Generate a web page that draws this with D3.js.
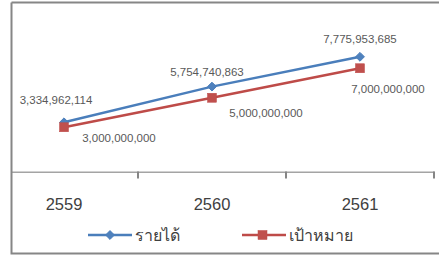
<!DOCTYPE html>
<html><head><meta charset="utf-8">
<script src="https://cdn.jsdelivr.net/npm/d3@7"></script>
<style>html,body{margin:0;padding:0;background:#fff;}svg{display:block;}</style>
</head><body>
<svg id="c" width="439" height="255"></svg>
<script>
const categories = ["2559", "2560", "2561"];
const revenue = [3334962114, 5754740863, 7775953685];
const target = [3000000000, 5000000000, 7000000000];
const seriesNames = ["รายได้", "เป้าหมาย"];

// label layout (offsets from the point)
const revLabelOff = [[-8, -22], [-5, -15], [0, -18]];
const tgtLabelOff = [[55, 11], [54, 15], [28, 21]];

const svg = d3.select("#c");
const fmt = d3.format(",");
const font = "'Liberation Sans', Arial, sans-serif";

const x = d3.scaleBand().domain(categories).range([-10, 434]);
const y = d3.scaleLinear().domain([0, 10000000000]).range([171.5, 24]);
const cx = d => x(d) + x.bandwidth() / 2;

// chart border (left, top, bottom)
svg.append("path")
  .attr("d", "M11.5,2.5 H439 M11.5,2.5 V253.5 H439")
  .attr("fill", "none").attr("stroke", "#868686").attr("stroke-width", 2);

// category axis
svg.append("defs").append("clipPath").attr("id", "clip")
  .append("rect").attr("x", 12).attr("y", 0).attr("width", 430).attr("height", 255);
const ax = svg.append("g").attr("transform", "translate(0,171.5)")
  .attr("clip-path", "url(#clip)")
  .call(d3.axisBottom(x).tickSize(0).tickFormat(""));
ax.select(".domain").attr("stroke", "#868686").attr("stroke-width", 1.5);
// tick marks between categories
const bounds = categories.map(c => x(c) + x.bandwidth());
svg.append("g").selectAll("line").data(bounds).join("line")
  .attr("x1", d => d).attr("x2", d => d)
  .attr("y1", 171.5).attr("y2", 178.5)
  .attr("stroke", "#868686").attr("stroke-width", 2);
svg.append("g").selectAll("text").data(categories).join("text")
  .attr("x", d => cx(d)).attr("y", 210)
  .attr("text-anchor", "middle")
  .attr("font-family", font).attr("font-size", 16.5).attr("fill", "#404040")
  .text(d => d);

const line = d3.line().x((d, i) => cx(categories[i])).y(d => y(d));
const blue = "#4A7EBB", blueM = "#4F81BD", red = "#BE4B48", redM = "#C0504D";

svg.append("path").datum(revenue).attr("d", line)
  .attr("fill", "none").attr("stroke", blue).attr("stroke-width", 2.5);
svg.append("path").datum(target).attr("d", line)
  .attr("fill", "none").attr("stroke", red).attr("stroke-width", 2.5);

const diamond = d3.symbol().type(d3.symbolDiamond2).size(50);
svg.append("g").selectAll("path").data(revenue).join("path")
  .attr("transform", (d, i) => `translate(${cx(categories[i])},${y(d)})`)
  .attr("d", diamond).attr("fill", blueM).attr("stroke", blue);
svg.append("g").selectAll("rect").data(target).join("rect")
  .attr("x", (d, i) => cx(categories[i]) - 4.5).attr("y", d => y(d) - 4.5)
  .attr("width", 9).attr("height", 9).attr("fill", redM).attr("stroke", red).attr("stroke-width", 0.5);

// data labels
svg.append("g").selectAll("text").data(revenue).join("text")
  .attr("x", (d, i) => cx(categories[i]) + revLabelOff[i][0])
  .attr("y", (d, i) => y(d) + revLabelOff[i][1])
  .attr("dy", "0.35em").attr("text-anchor", "middle")
  .attr("font-family", font).attr("font-size", 11.5).attr("fill", "#595959")
  .text(d => fmt(d));
svg.append("g").selectAll("text").data(target).join("text")
  .attr("x", (d, i) => cx(categories[i]) + tgtLabelOff[i][0])
  .attr("y", (d, i) => y(d) + tgtLabelOff[i][1])
  .attr("dy", "0.35em").attr("text-anchor", "middle")
  .attr("font-family", font).attr("font-size", 11.5).attr("fill", "#595959")
  .text(d => fmt(d));

// legend
const legX = [88, 242];
const leg = svg.append("g").selectAll("g").data(seriesNames).join("g")
  .attr("transform", (d, i) => `translate(${legX[i]},235)`);
leg.append("line").attr("x1", 0).attr("x2", 44).attr("y1", 0).attr("y2", 0)
  .attr("stroke", (d, i) => i ? red : blue).attr("stroke-width", 2.5);
leg.filter((d, i) => i === 0).append("path").attr("transform", "translate(22,0)")
  .attr("d", diamond).attr("fill", blueM).attr("stroke", blue);
leg.filter((d, i) => i === 1).append("rect").attr("x", 16).attr("y", -4.5)
  .attr("width", 9).attr("height", 9).attr("fill", redM).attr("stroke", red).attr("stroke-width", 0.5);
leg.append("text").attr("x", 47).attr("y", 0).attr("dy", "0.35em")
  .attr("font-family", "Tahoma, 'Noto Sans', sans-serif").attr("font-size", 16).attr("fill", "#404040")
  .text(d => d);
</script>
</body></html>
